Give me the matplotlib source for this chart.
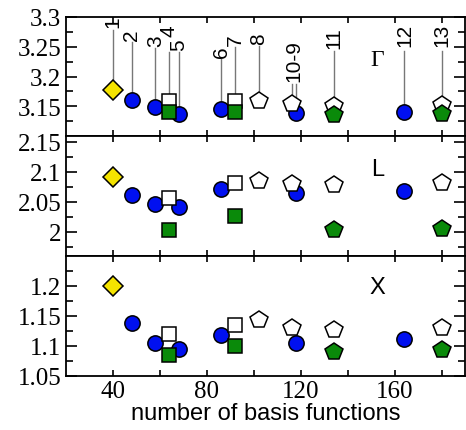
import numpy as np
import matplotlib
matplotlib.use('Agg')
import matplotlib.pyplot as plt
from matplotlib.ticker import FixedLocator

# data (x = number of basis functions)
circ_x = [48, 58, 68, 86, 118, 164]
circ_g = [3.160, 3.148, 3.137, 3.145, 3.138, 3.140]
circ_l = [2.061, 2.047, 2.042, 2.071, 2.065, 2.068]
circ_xp = [1.138, 1.105, 1.095, 1.118, 1.105, 1.111]

diam_x = [40]
diam_g = [3.178]
diam_l = [2.092]
diam_xp = [1.200]

osq_x = [64, 92]
osq_g = [3.159, 3.158]
osq_l = [2.056, 2.081]
osq_xp = [1.120, 1.134]

gsq_x = [64, 92]
gsq_g = [3.141, 3.140]
gsq_l = [2.003, 2.026]
gsq_xp = [1.084, 1.100]

opent_x = [102, 116, 134, 180]
opent_g = [3.159, 3.153, 3.150, 3.152]
opent_l = [2.084, 2.080, 2.078, 2.081]
opent_xp = [1.142, 1.130, 1.126, 1.129]

gpent_x = [134, 180]
gpent_g = [3.136, 3.137]
gpent_l = [2.003, 2.004]
gpent_xp = [1.089, 1.093]

# labels in the Gamma panel: text, x, text base, top and bottom of the leader line
lab_text = ['1', '2', '3', '4', '5', '6', '7', '8', '10-9', '11', '12', '13']
lab_x = [40, 48, 58, 64, 68, 86, 92, 102, 117, 134, 164, 180]
lab_y = [3.284, 3.261, 3.251, 3.268, 3.244, 3.233, 3.253, 3.255, 3.192, 3.248, 3.252, 3.252]
lab_top = [3.278, 3.258, 3.248, 3.242, 3.242, 3.230, 3.250, 3.252, 3.188, 3.243, 3.243, 3.243]
lab_bot = [3.178, 3.160, 3.148, 3.159, 3.137, 3.145, 3.158, 3.159, 3.150, 3.150, 3.140, 3.152]

# tick values of each panel
g_ticks = [3.15, 3.2, 3.25, 3.3]
l_ticks = [2.0, 2.05, 2.1, 2.15]
x_ticks = [1.05, 1.1, 1.15, 1.2]

panels = [
    ('Γ', (3.10, 3.30), g_ticks, circ_g, diam_g, osq_g, gsq_g, opent_g, gpent_g, 3.228, 'Liberation Serif'),
    ('L', (1.96, 2.16), l_ticks, circ_l, diam_l, osq_l, gsq_l, opent_l, gpent_l, 2.105, 'Liberation Sans'),
    ('X', (1.05, 1.25), x_ticks, circ_xp, diam_xp, osq_xp, gsq_xp, opent_xp, gpent_xp, 1.198, 'Liberation Sans'),
]

fig = plt.figure(figsize=(4.66, 4.31), dpi=100)
left, width = 66 / 466, 399.5 / 466
tops = [18, 137, 256.7, 376.5]

for i, (name, ylim, yt, cy, dy, oy, gy, py, gpy, name_y, name_font) in enumerate(panels):
    ax = fig.add_axes([left, 1 - tops[i + 1] / 431, width, (tops[i + 1] - tops[i]) / 431])
    ax.set_xlim(20, 190)
    ax.set_ylim(*ylim)
    ax.xaxis.set_major_locator(FixedLocator([40, 80, 120, 160]))
    ax.xaxis.set_minor_locator(FixedLocator([60, 100, 140, 180]))
    ax.yaxis.set_major_locator(FixedLocator(yt))
    minor = [round(t + 0.025, 3) for t in yt] + [round(yt[0] - 0.025, 3)]
    ax.yaxis.set_minor_locator(FixedLocator(minor))
    ax.tick_params(which='both', direction='in', top=True, right=True, width=1.2)
    ax.tick_params(axis='y', which='major', length=8)
    ax.tick_params(axis='y', which='minor', length=5)
    ax.tick_params(axis='x', which='both', length=4)
    for sp in ax.spines.values():
        sp.set_linewidth(1.3)
    ax.set_yticklabels(['%g' % t for t in yt], fontfamily='Liberation Serif', fontsize=18)
    if i < 2:
        ax.set_xticklabels([])
    else:
        ax.set_xticklabels(['40', '80', '120', '160'], fontfamily='Liberation Serif', fontsize=18)
        ax.set_xlabel('number of basis functions', fontfamily='Liberation Sans', fontsize=17, labelpad=0)

    mk = dict(markeredgecolor='black', markeredgewidth=1.1, linestyle='none', zorder=3)
    ax.plot(diam_x, dy, marker='D', color='#f5e400', markersize=10, **mk)
    ax.plot(circ_x, cy, marker='o', color='#0010f0', markersize=11, **mk)
    ax.plot(osq_x, oy, marker='s', color='white', markersize=9.5, **mk)
    ax.plot(gsq_x, gy, marker='s', color='#0a8a0a', markersize=9.5, **mk)
    ax.plot(opent_x, py, marker='p', color='white', markersize=13, **mk)
    ax.plot(gpent_x, gpy, marker='p', color='#0a8a0a', markersize=13, **mk)

    ax.text(152.5, name_y, name, fontfamily=name_font, fontsize=17, ha='center', va='center')

    if i == 0:
        for t, x, ty, top, bot in zip(lab_text, lab_x, lab_y, lab_top, lab_bot):
            if t == '10-9':
                for xx in (116, 118):
                    ax.plot([xx, xx], [3.15, top], color='#777777', lw=1, zorder=1)
            else:
                ax.plot([x, x], [bot, top], color='#777777', lw=1, zorder=1)
            ax.text(x, ty, t, rotation=90, ha='center', va='bottom',
                    fontfamily='Liberation Sans', fontsize=15, clip_on=False)

fig.savefig('out.png', dpi=100)
